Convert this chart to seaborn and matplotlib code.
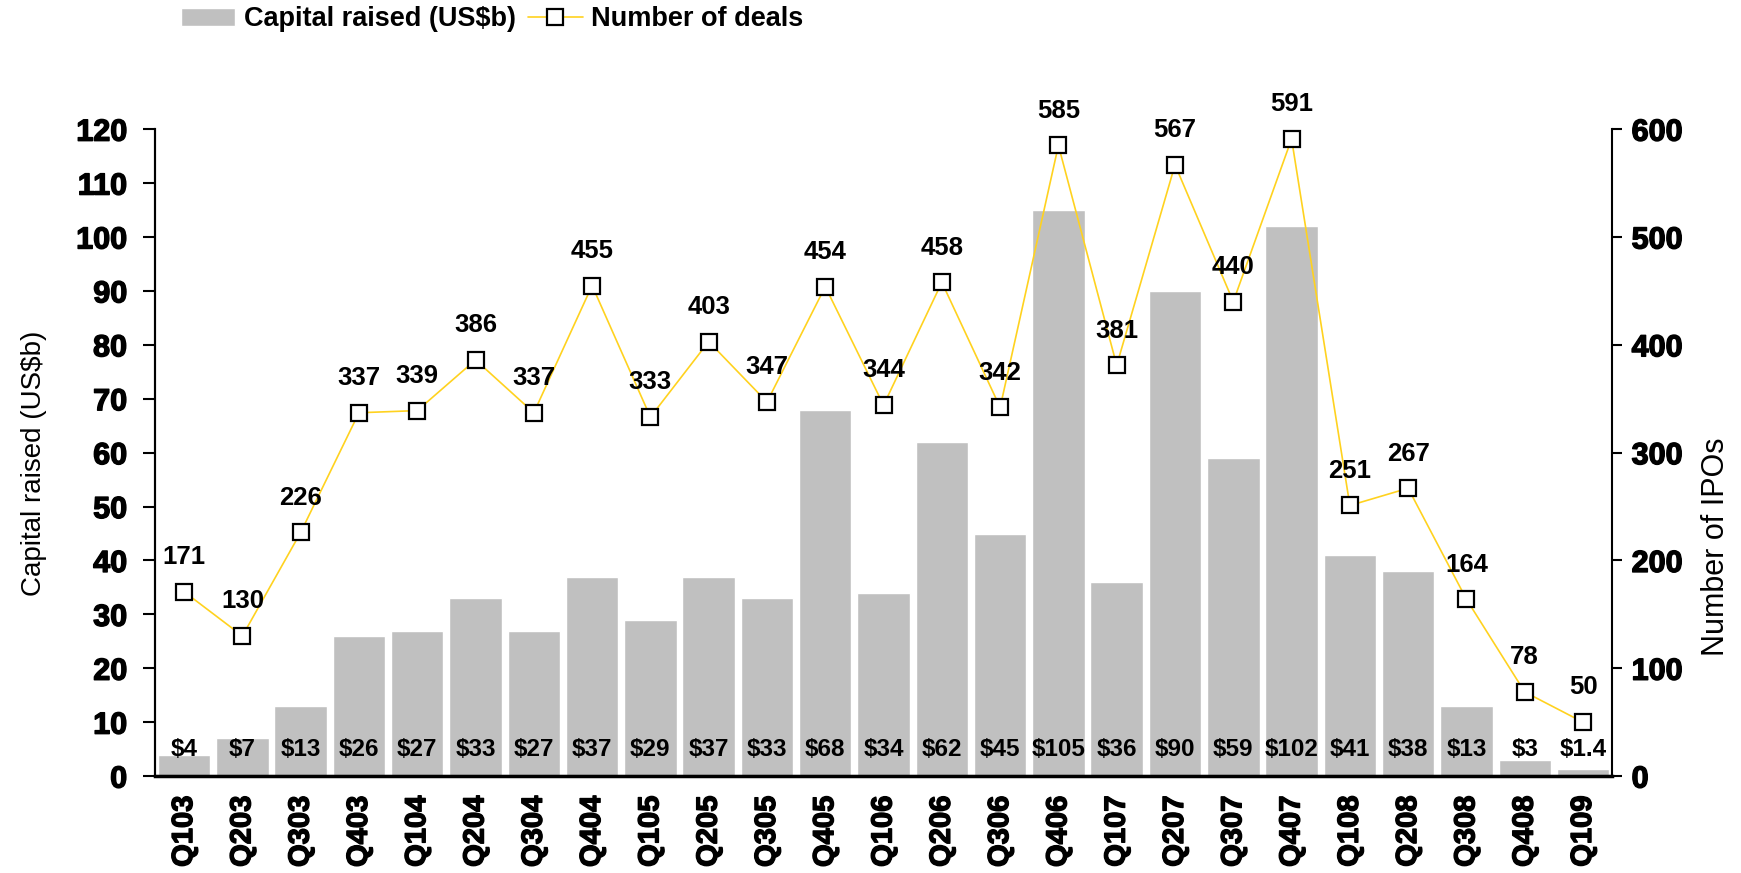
import numpy as np
import pandas as pd
import matplotlib
matplotlib.use("Agg")
import matplotlib.pyplot as plt
import matplotlib.patheffects as pe
import seaborn as sns

# chart data
quarters = ['Q103', 'Q203', 'Q303', 'Q403', 'Q104', 'Q204', 'Q304', 'Q404', 'Q105',
            'Q205', 'Q305', 'Q405', 'Q106', 'Q206', 'Q306', 'Q406', 'Q107', 'Q207',
            'Q307', 'Q407', 'Q108', 'Q208', 'Q308', 'Q408', 'Q109']
capital = [4, 7, 13, 26, 27, 33, 27, 37, 29, 37, 33, 68, 34, 62, 45, 105, 36, 90,
           59, 102, 41, 38, 13, 3, 1.4]
capital_labels = ['$4', '$7', '$13', '$26', '$27', '$33', '$27', '$37', '$29', '$37',
                  '$33', '$68', '$34', '$62', '$45', '$105', '$36', '$90', '$59',
                  '$102', '$41', '$38', '$13', '$3', '$1.4']
deals = [171, 130, 226, 337, 339, 386, 337, 455, 333, 403, 347, 454, 344, 458, 342,
         585, 381, 567, 440, 591, 251, 267, 164, 78, 50]

df = pd.DataFrame({'Quarter': quarters, 'Capital': capital, 'Deals': deals})

sns.set_theme(style="white")
plt.rcParams['font.family'] = ['Liberation Sans', 'DejaVu Sans']
for k in ['text.color', 'axes.labelcolor', 'xtick.color', 'ytick.color']:
    plt.rcParams[k] = 'black'

fig, ax = plt.subplots(figsize=(17.41, 8.73), dpi=100)
fig.subplots_adjust(left=0.089, right=0.926, top=0.852, bottom=0.111)

# bars - capital raised
sns.barplot(data=df, x='Quarter', y='Capital', color='#C0C0C0', width=0.9,
            saturation=1, ax=ax, label='Capital raised (US$b)')
ax.set_xlim(-0.5, len(quarters) - 0.5)
ax.set_ylim(0, 120)
ax.set_yticks(range(0, 121, 10))
ax.set_xlabel('')
ax.set_ylabel('Capital raised (US$b)', fontsize=20, va='center')
ax.yaxis.set_label_coords(-0.083, 0.484)

for i, lab in enumerate(capital_labels):
    ax.text(i, 5.0, lab, ha='center', va='center', fontsize=17.5, fontweight='bold')

# line - number of deals
ax2 = ax.twinx()
sns.lineplot(x=np.arange(len(deals)), y=deals, ax=ax2, color='#FFD21F', lw=1.2,
             marker='s', markersize=11, markerfacecolor='white',
             markeredgecolor='black', markeredgewidth=1.6, label='Number of deals')
ax2.set_ylim(0, 600)
ax2.set_yticks(range(0, 601, 100))
ax2.set_ylabel('Number of IPOs', fontsize=22, va='center')
ax2.yaxis.set_label_coords(1.071, 0.355)

for i, d in enumerate(deals):
    ax2.annotate(str(d), (i, d), xytext=(0, 25), textcoords='offset points',
                 ha='center', va='center', fontsize=18.5, fontweight='bold')

# axes styling
for a in (ax, ax2):
    a.spines['top'].set_visible(False)
    for s in a.spines.values():
        s.set_color('black')
        s.set_linewidth(1.5)
ax.spines['right'].set_visible(False)
ax.spines['bottom'].set_linewidth(2.5)
ax.tick_params(axis='y', direction='out', length=9, width=1.5, color='black', pad=11)
ax2.tick_params(axis='y', direction='out', length=7, width=1.5, color='black', pad=7)
ax.tick_params(axis='x', length=0, pad=14)
heavy = [pe.withStroke(linewidth=1.0, foreground='black')]
for t in ax.get_yticklabels() + ax2.get_yticklabels():
    t.set_fontsize(22)
    t.set_fontweight('bold')
    t.set_path_effects(heavy)
for t in ax.get_xticklabels():
    t.set_rotation(90)
    t.set_fontsize(21)
    t.set_fontweight('bold')
    t.set_path_effects(heavy)

# legend on top
h1, l1 = ax.get_legend_handles_labels()
h2, l2 = ax2.get_legend_handles_labels()
if ax.get_legend():
    ax.get_legend().remove()
if ax2.get_legend():
    ax2.get_legend().remove()
fig.legend(h1 + h2, l1 + l2, loc='center left', bbox_to_anchor=(0.104, 0.978),
           ncol=2, frameon=False, handlelength=2.0, handleheight=0.63,
           columnspacing=0.45, handletextpad=0.33, borderpad=0, borderaxespad=0,
           prop={'weight': 'bold', 'size': 19.5})

fig.savefig('out.png', dpi=100)
